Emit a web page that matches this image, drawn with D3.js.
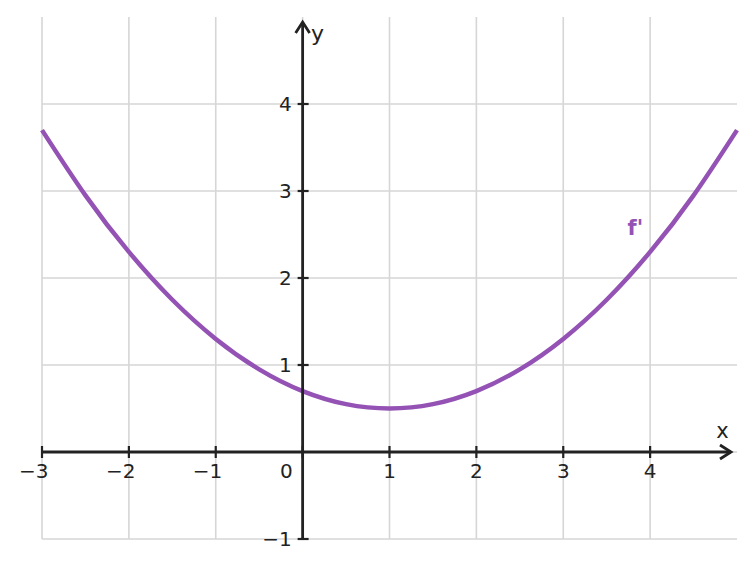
<!DOCTYPE html>
<html><head><meta charset="utf-8">
<script src="https://cdn.jsdelivr.net/npm/d3@7"></script>
<style>body{margin:0;background:#fff}text{font-family:"DejaVu Sans",sans-serif}</style>
</head><body>
<svg id="c" width="755" height="567"></svg>
<script>
const xTicks = [-3,-2,-1,0,1,2,3,4];
const yTicks = [-1,1,2,3,4];
const xGrid = [-3,-2,-1,0,1,2,3,4];
const yGrid = [-1,0,1,2,3,4];
const curveX = [-3,-2.5,-2,-1.5,-1,-0.5,0,0.5,1,1.5,2,2.5,3,3.5,4,4.5,5];
const curveY = [3.7,2.95,2.3,1.75,1.3,0.95,0.7,0.55,0.5,0.55,0.7,0.95,1.3,1.75,2.3,2.95,3.7];
const seriesLabel = "f'";

const svg = d3.select("#c");
const x = d3.scaleLinear().domain([-3,5]).range([42,737]);
const y = d3.scaleLinear().domain([-1,5]).range([539,17]);
const ink = "#222", gridC = "#d6d6d6", purple = "#9352b4";

svg.append("g").selectAll("line").data(xGrid).join("line")
  .attr("x1",d=>x(d)).attr("x2",d=>x(d)).attr("y1",y(5)).attr("y2",y(-1))
  .attr("stroke",gridC).attr("stroke-width",1.6);
svg.append("g").selectAll("line").data(yGrid).join("line")
  .attr("x1",x(-3)).attr("x2",x(5)).attr("y1",d=>y(d)).attr("y2",d=>y(d))
  .attr("stroke",gridC).attr("stroke-width",1.6);

const pts = curveX.map((v,i)=>[v,curveY[i]]);
svg.append("path").datum(pts)
  .attr("d", d3.line().x(d=>x(d[0])).y(d=>y(d[1])).curve(d3.curveNatural))
  .attr("fill","none").attr("stroke",purple).attr("stroke-width",4.5);

const xAxisY = y(0), yAxisX = x(0);
svg.append("line").attr("x1",x(-3)).attr("x2",x(5)-6).attr("y1",xAxisY).attr("y2",xAxisY)
  .attr("stroke",ink).attr("stroke-width",2.8);
svg.append("path").attr("d",`M${x(5)-17},${xAxisY-7} L${x(5)-6},${xAxisY} L${x(5)-17},${xAxisY+7}`)
  .attr("fill","none").attr("stroke",ink).attr("stroke-width",2.8);
svg.append("line").attr("x1",yAxisX).attr("x2",yAxisX).attr("y1",y(-1)).attr("y2",y(5)+5)
  .attr("stroke",ink).attr("stroke-width",2.8);
svg.append("path").attr("d",`M${yAxisX-7},${y(5)+16} L${yAxisX},${y(5)+5} L${yAxisX+7},${y(5)+16}`)
  .attr("fill","none").attr("stroke",ink).attr("stroke-width",2.8);

svg.append("g").selectAll("line").data(xTicks).join("line")
  .attr("x1",d=>x(d)).attr("x2",d=>x(d)).attr("y1",xAxisY-6).attr("y2",xAxisY+6)
  .attr("stroke",ink).attr("stroke-width",2.2);
svg.append("g").selectAll("line").data(yTicks).join("line")
  .attr("x1",yAxisX-5).attr("x2",yAxisX+6).attr("y1",d=>y(d)).attr("y2",d=>y(d))
  .attr("stroke",ink).attr("stroke-width",2.2);

const fmt = d => d<0 ? "\u2212"+Math.abs(d) : String(d);
svg.append("g").selectAll("text").data(xTicks.filter(d=>d!==0)).join("text")
  .attr("x",d=>d<0 ? x(d)+6.5 : x(d)).attr("y",xAxisY+26)
  .attr("text-anchor",d=>d<0?"end":"middle")
  .attr("font-size",20).attr("fill",ink).text(fmt);
svg.append("text").attr("x",yAxisX-10).attr("y",xAxisY+26).attr("text-anchor","end")
  .attr("font-size",20).attr("fill",ink).text("0");
svg.append("g").selectAll("text").data(yTicks).join("text")
  .attr("x",yAxisX-11).attr("y",d=>y(d)+7).attr("text-anchor","end")
  .attr("font-size",20).attr("fill",ink).text(fmt);

svg.append("text").attr("x",x(5)-14.5).attr("y",xAxisY-14).attr("text-anchor","middle")
  .attr("font-size",21).attr("fill",ink).text("x");
svg.append("text").attr("x",yAxisX+15).attr("y",y(5)+24).attr("text-anchor","middle")
  .attr("font-size",22).attr("fill",ink).text("y");
svg.append("text").attr("x",x(3.83)).attr("y",y(2.5)).attr("text-anchor","middle")
  .attr("font-size",21).attr("font-weight","bold").attr("fill",purple).text(seriesLabel);
</script>
</body></html>
